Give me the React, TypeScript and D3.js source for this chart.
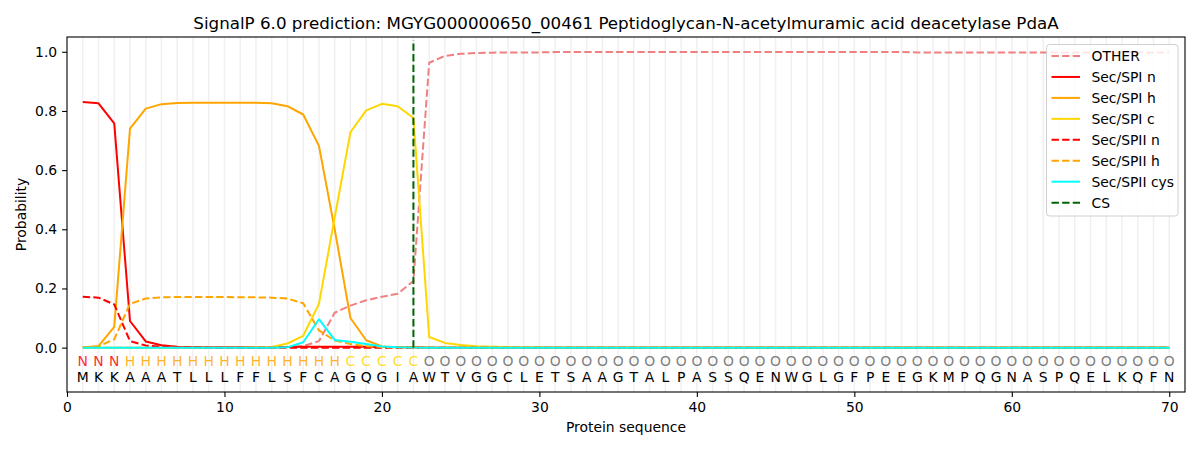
import { useEffect, useRef } from "react";
import * as d3 from "d3";

const sequence = "MKKAAATLLLFFLSFCAGQGIAWTVGGCLETSAAGTALPASSQENWGLGFPEEGKMPQGNASPQELKQFN".split("");
const labels = "NNNHHHHHHHHHHHHHHCCCCCOOOOOOOOOOOOOOOOOOOOOOOOOOOOOOOOOOOOOOOOOOOOOOOO".split("");

const other = [
  0, 0, 0, 0, 0, 0, 0, 0, 0, 0, 0, 0, 0, 0.002, 0.005, 0.022, 0.118, 0.142, 0.16, 0.172,
  0.182, 0.225, 0.963, 0.986, 0.993, 0.996, 0.997, 0.998, 0.998, 0.998, 0.999, 0.999, 0.999, 0.999, 0.999, 0.999,
  0.999, 0.999, 0.999, 0.999, 0.999, 0.999, 0.999, 0.999, 0.999, 0.999, 0.999, 0.999, 0.999, 0.999, 0.999, 0.999,
  0.999, 0.998, 0.998, 0.998, 0.998, 0.998, 0.998, 0.998, 0.998, 0.998, 0.998, 0.998, 0.998, 0.998, 0.998, 0.998,
  0.998, 0.998,
];
const spiN = [
  0.83, 0.826, 0.758, 0.09, 0.021, 0.008, 0.003, 0.001, 0.001, 0.001, 0.001, 0.001, 0.001, 0.002, 0.003, 0.003,
  0.003, 0.003, 0.003, 0.002, 0.002, 0.001, 0, 0, 0, 0, 0, 0, 0, 0, 0, 0, 0, 0, 0, 0, 0, 0, 0, 0, 0, 0, 0, 0, 0,
  0, 0, 0, 0, 0, 0, 0, 0, 0, 0, 0, 0, 0, 0, 0, 0, 0, 0, 0, 0, 0, 0, 0, 0, 0,
];
const spiH = [
  0.001, 0.005, 0.07, 0.74, 0.808, 0.823, 0.827, 0.828, 0.828, 0.828, 0.828, 0.828, 0.826, 0.816, 0.788, 0.682,
  0.4, 0.1, 0.025, 0.004, 0.001, 0.001, 0, 0, 0, 0, 0, 0, 0, 0, 0, 0, 0, 0, 0, 0, 0, 0, 0, 0, 0, 0, 0, 0, 0, 0,
  0, 0, 0, 0, 0, 0, 0, 0, 0, 0, 0, 0, 0, 0, 0, 0, 0, 0, 0, 0, 0, 0, 0, 0,
];
const spiC = [
  0, 0, 0, 0, 0, 0, 0, 0, 0, 0, 0, 0.001, 0.002, 0.014, 0.04, 0.148, 0.44, 0.728, 0.802, 0.824, 0.816, 0.776,
  0.036, 0.016, 0.009, 0.005, 0.003, 0.002, 0.001, 0.001, 0, 0, 0, 0, 0, 0, 0, 0, 0, 0, 0, 0, 0, 0, 0, 0, 0, 0,
  0, 0, 0, 0, 0, 0, 0, 0, 0, 0, 0, 0, 0, 0, 0, 0, 0, 0, 0, 0, 0, 0,
];
const spiiN = [
  0.172, 0.169, 0.146, 0.022, 0.007, 0.003, 0.001, 0.001, 0, 0, 0, 0, 0, 0, 0, 0, 0, 0, 0, 0, 0, 0, 0, 0, 0, 0,
  0, 0, 0, 0, 0, 0, 0, 0, 0, 0, 0, 0, 0, 0, 0, 0, 0, 0, 0, 0, 0, 0, 0, 0, 0, 0, 0, 0, 0, 0, 0, 0, 0, 0, 0, 0, 0,
  0, 0, 0, 0, 0, 0, 0,
];
const spiiH = [
  0.001, 0.004, 0.028, 0.148, 0.166, 0.17, 0.171, 0.171, 0.171, 0.171, 0.17, 0.17, 0.169, 0.166, 0.15, 0.058,
  0.024, 0.012, 0.005, 0.002, 0.001, 0, 0, 0, 0, 0, 0, 0, 0, 0, 0, 0, 0, 0, 0, 0, 0, 0, 0, 0, 0, 0, 0, 0, 0, 0,
  0, 0, 0, 0, 0, 0, 0, 0, 0, 0, 0, 0, 0, 0, 0, 0, 0, 0, 0, 0, 0, 0, 0, 0,
];
const spiiCys = [
  0, 0, 0, 0, 0, 0, 0, 0, 0, 0, 0, 0, 0, 0.001, 0.018, 0.096, 0.026, 0.02, 0.012, 0.004, 0.001, 0, 0, 0, 0, 0,
  0, 0, 0, 0, 0, 0, 0, 0, 0, 0, 0, 0, 0, 0, 0, 0, 0, 0, 0, 0, 0, 0, 0, 0, 0, 0, 0, 0, 0, 0, 0, 0, 0, 0, 0, 0, 0,
  0, 0, 0, 0, 0, 0, 0,
];
const cleavageSite = 22;

const series = [
  { name: "OTHER", values: other, color: "#f08080", dashed: true },
  { name: "Sec/SPI n", values: spiN, color: "#ff0000", dashed: false },
  { name: "Sec/SPI h", values: spiH, color: "#ffa500", dashed: false },
  { name: "Sec/SPI c", values: spiC, color: "#ffd700", dashed: false },
  { name: "Sec/SPII n", values: spiiN, color: "#ff0000", dashed: true },
  { name: "Sec/SPII h", values: spiiH, color: "#ffa500", dashed: true },
  { name: "Sec/SPII cys", values: spiiCys, color: "#00ffff", dashed: false },
];

const labelColors: Record<string, string> = {
  N: "#ff0000",
  H: "#ffa500",
  C: "#ffd700",
  O: "#808080",
};

const xTicks = [0, 10, 20, 30, 40, 50, 60, 70];
const yTicks = [0, 0.2, 0.4, 0.6, 0.8, 1.0];

const width = 1200;
const height = 450;
const margin = { top: 37, right: 15, bottom: 58, left: 67 };
const font = "DejaVu Sans, sans-serif";

export default function App() {
  const svgRef = useRef<SVGSVGElement>(null);

  useEffect(() => {
    document.body.style.margin = "0";
    if (!svgRef.current) return;
    const svg = d3.select(svgRef.current);
    svg.selectAll("*").remove();

    const x = d3.scaleLinear().domain([0, 71]).range([margin.left, width - margin.right]);
    const y = d3.scaleLinear().domain([-0.15, 1.05]).range([height - margin.bottom, margin.top]);

    svg.append("rect").attr("width", width).attr("height", height).attr("fill", "#fff");

    // vertical grid at every residue
    svg
      .append("g")
      .selectAll("line")
      .data(sequence.map((_, i) => i + 1))
      .enter()
      .append("line")
      .attr("x1", (d) => x(d))
      .attr("x2", (d) => x(d))
      .attr("y1", y(-0.15))
      .attr("y2", y(1.05))
      .attr("stroke", "#f0f0f0")
      .attr("stroke-width", 1.5);

    // residue labels and sequence
    const txt = svg.append("g").attr("font-family", font).attr("font-size", 13.9).attr("text-anchor", "middle");
    labels.forEach((l, i) => {
      txt
        .append("text")
        .attr("x", x(i + 1))
        .attr("y", y(-0.046))
        .attr("dominant-baseline", "central")
        .attr("fill", labelColors[l])
        .attr("fill-opacity", l === "O" ? 1 : 0.85)
        .text(l);
    });
    sequence.forEach((s, i) => {
      txt
        .append("text")
        .attr("x", x(i + 1))
        .attr("y", y(-0.1))
        .attr("dominant-baseline", "central")
        .attr("fill", "#000")
        .text(s);
    });

    const line = d3
      .line<number>()
      .x((_, i) => x(i + 1))
      .y((d) => y(d));

    series.forEach((s) => {
      svg
        .append("path")
        .attr("d", line(s.values))
        .attr("fill", "none")
        .attr("stroke", s.color)
        .attr("stroke-width", 2)
        .attr("stroke-dasharray", s.dashed ? "7.4,3.2" : null)
        .attr("stroke-linejoin", "round");
    });

    // cleavage site
    svg
      .append("line")
      .attr("x1", x(cleavageSite))
      .attr("x2", x(cleavageSite))
      .attr("y1", y(0))
      .attr("y2", y(1.04))
      .attr("stroke", "#006400")
      .attr("stroke-width", 2)
      .attr("stroke-dasharray", "7.4,3.2");

    // axes
    const xAxis = svg
      .append("g")
      .attr("transform", `translate(0,${y(-0.15)})`)
      .call(d3.axisBottom(x).tickValues(xTicks).tickSize(4.9).tickPadding(4.9).tickFormat(d3.format("d")));
    const yAxis = svg
      .append("g")
      .attr("transform", `translate(${x(0)},0)`)
      .call(d3.axisLeft(y).tickValues(yTicks).tickSize(4.9).tickPadding(4.9).tickFormat(d3.format(".1f")));
    [xAxis, yAxis].forEach((a) => {
      a.select(".domain").remove();
      a.selectAll("text").attr("font-family", font).attr("font-size", 13.9).attr("fill", "#000");
      a.selectAll("line").attr("stroke", "#000").attr("stroke-width", 1.1);
    });

    svg
      .append("rect")
      .attr("x", x(0))
      .attr("y", y(1.05))
      .attr("width", x(71) - x(0))
      .attr("height", y(-0.15) - y(1.05))
      .attr("fill", "none")
      .attr("stroke", "#000")
      .attr("stroke-width", 1.1);

    // titles
    svg
      .append("text")
      .attr("x", (x(0) + x(71)) / 2)
      .attr("y", 29)
      .attr("text-anchor", "middle")
      .attr("font-family", font)
      .attr("font-size", 16.7)
      .text("SignalP 6.0 prediction: MGYG000000650_00461 Peptidoglycan-N-acetylmuramic acid deacetylase PdaA");
    svg
      .append("text")
      .attr("x", (x(0) + x(71)) / 2)
      .attr("y", 432)
      .attr("text-anchor", "middle")
      .attr("font-family", font)
      .attr("font-size", 13.9)
      .text("Protein sequence");
    svg
      .append("text")
      .attr("transform", `translate(26,${(y(1.05) + y(-0.15)) / 2}) rotate(-90)`)
      .attr("text-anchor", "middle")
      .attr("font-family", font)
      .attr("font-size", 13.9)
      .text("Probability");

    // legend
    const legendItems = [
      ...series.map((s) => ({ name: s.name, color: s.color, dashed: s.dashed })),
      { name: "CS", color: "#006400", dashed: true },
    ];
    const lg = svg.append("g").attr("transform", "translate(1046.5,44.5)");
    lg.append("rect")
      .attr("width", 131.5)
      .attr("height", 171.5)
      .attr("rx", 3)
      .attr("fill", "#fff")
      .attr("fill-opacity", 0.8)
      .attr("stroke", "#d0d0d0");
    legendItems.forEach((it, i) => {
      const cy = 11.5 + i * 20.95;
      lg.append("line")
        .attr("x1", 5)
        .attr("x2", 33.5)
        .attr("y1", cy)
        .attr("y2", cy)
        .attr("stroke", it.color)
        .attr("stroke-width", 2)
        .attr("stroke-dasharray", it.dashed ? "7.4,3.2" : null);
      lg.append("text")
        .attr("x", 45)
        .attr("y", cy)
        .attr("dominant-baseline", "central")
        .attr("font-family", font)
        .attr("font-size", 13.9)
        .text(it.name);
    });
  }, []);

  return <svg ref={svgRef} width={width} height={height} style={{ display: "block" }} />;
}
